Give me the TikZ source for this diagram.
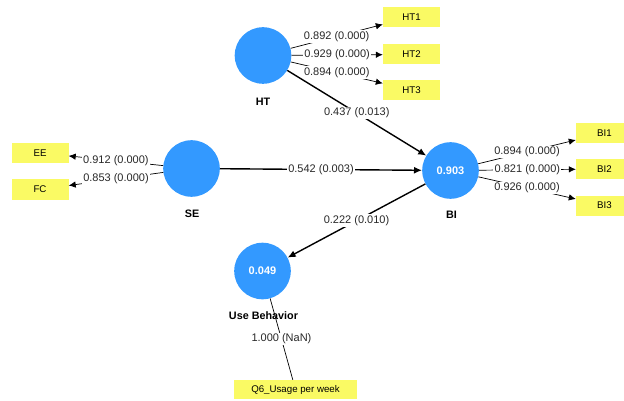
\documentclass[tikz,border=0pt]{standalone}
\usepackage{fontspec}
\setmainfont{Liberation Sans}
\usetikzlibrary{arrows.meta}
\definecolor{lvblue}{RGB}{51,153,255}
\definecolor{mvyellow}{RGB}{250,250,100}
\definecolor{labelgray}{RGB}{40,40,40}
\begin{document}
\begin{tikzpicture}[x=1pt,y=-1pt,
  latent/.style={circle,fill=lvblue,minimum size=56.6pt,inner sep=0pt,text=white,
    font=\fontsize{11}{13}\selectfont\bfseries},
  indicator/.style={rectangle,fill=mvyellow,minimum width=57pt,minimum height=20pt,
    inner sep=0pt,font=\fontsize{9.7}{11}\selectfont},
  cname/.style={font=\fontsize{10.8}{12}\selectfont\bfseries},
  coef/.style={fill=white,inner sep=1.2pt,text=labelgray,font=\fontsize{11}{13}\selectfont},
  pathline/.style={line width=1.4pt,-{Latex[length=8pt,width=7pt]}},
  loading/.style={line width=0.7pt,-{Latex[length=7pt,width=6.5pt]}},
  plainload/.style={line width=0.7pt},
]
\useasboundingbox (0,0) rectangle (624,401);
\clip (0,0) rectangle (624,401);

% latent variables
\node[latent] (HT) at (263,55.5) {};
\node[latent] (SE) at (191.5,168.5) {};
\node[latent] (BI) at (450.5,170.5) {0.903};
\node[latent] (UB) at (262.5,271) {0.049};

% construct names
\node[cname] (HTn) at (263,101.5) {HT};
\node[cname] (SEn) at (192,213.5) {SE};
\node[cname] (BIn) at (451.5,214.5) {BI};
\node[cname] (UBn) at (263.5,316) {Use Behavior};

% indicators
\node[indicator] (HT1) at (411.5,17) {HT1};
\node[indicator] (HT2) at (411.5,54.5) {HT2};
\node[indicator] (HT3) at (411.5,90) {HT3};
\node[indicator] (EE) at (40,153) {EE};
\node[indicator] (FC) at (40,189.5) {FC};
\node[indicator] (BI1) at (604.5,133) {BI1};
\node[indicator] (BI2) at (604.5,169) {BI2};
\node[indicator] (BI3) at (604.5,205.5) {BI3};
\node[indicator,minimum width=123pt,minimum height=19pt] (Q6) at (295.5,389.5) {Q6\_Usage per week};

% outer loadings
\draw[loading] (HT) -- node[coef] {0.892 (0.000)} (HT1);
\draw[loading] (HT) -- node[coef] {0.929 (0.000)} (HT2);
\draw[loading] (HT) -- node[coef] {0.894 (0.000)} (HT3);
\draw[loading] (SE) -- node[coef] {0.912 (0.000)} (EE);
\draw[loading] (SE) -- node[coef] {0.853 (0.000)} (FC);
\draw[loading] (BI) -- node[coef] {0.894 (0.000)} (BI1);
\draw[loading] (BI) -- node[coef] {0.821 (0.000)} (BI2);
\draw[loading] (BI) -- node[coef] {0.926 (0.000)} (BI3);
\draw[plainload] (UB) -- node[coef] {1.000 (NaN)} (Q6);

% path coefficients
\draw[pathline] (HT) -- node[coef] {0.437 (0.013)} (BI);
\draw[pathline] (SE) -- node[coef] {0.542 (0.003)} (BI);
\draw[pathline] (BI) -- node[coef] {0.222 (0.010)} (UB);
\end{tikzpicture}
\end{document}
